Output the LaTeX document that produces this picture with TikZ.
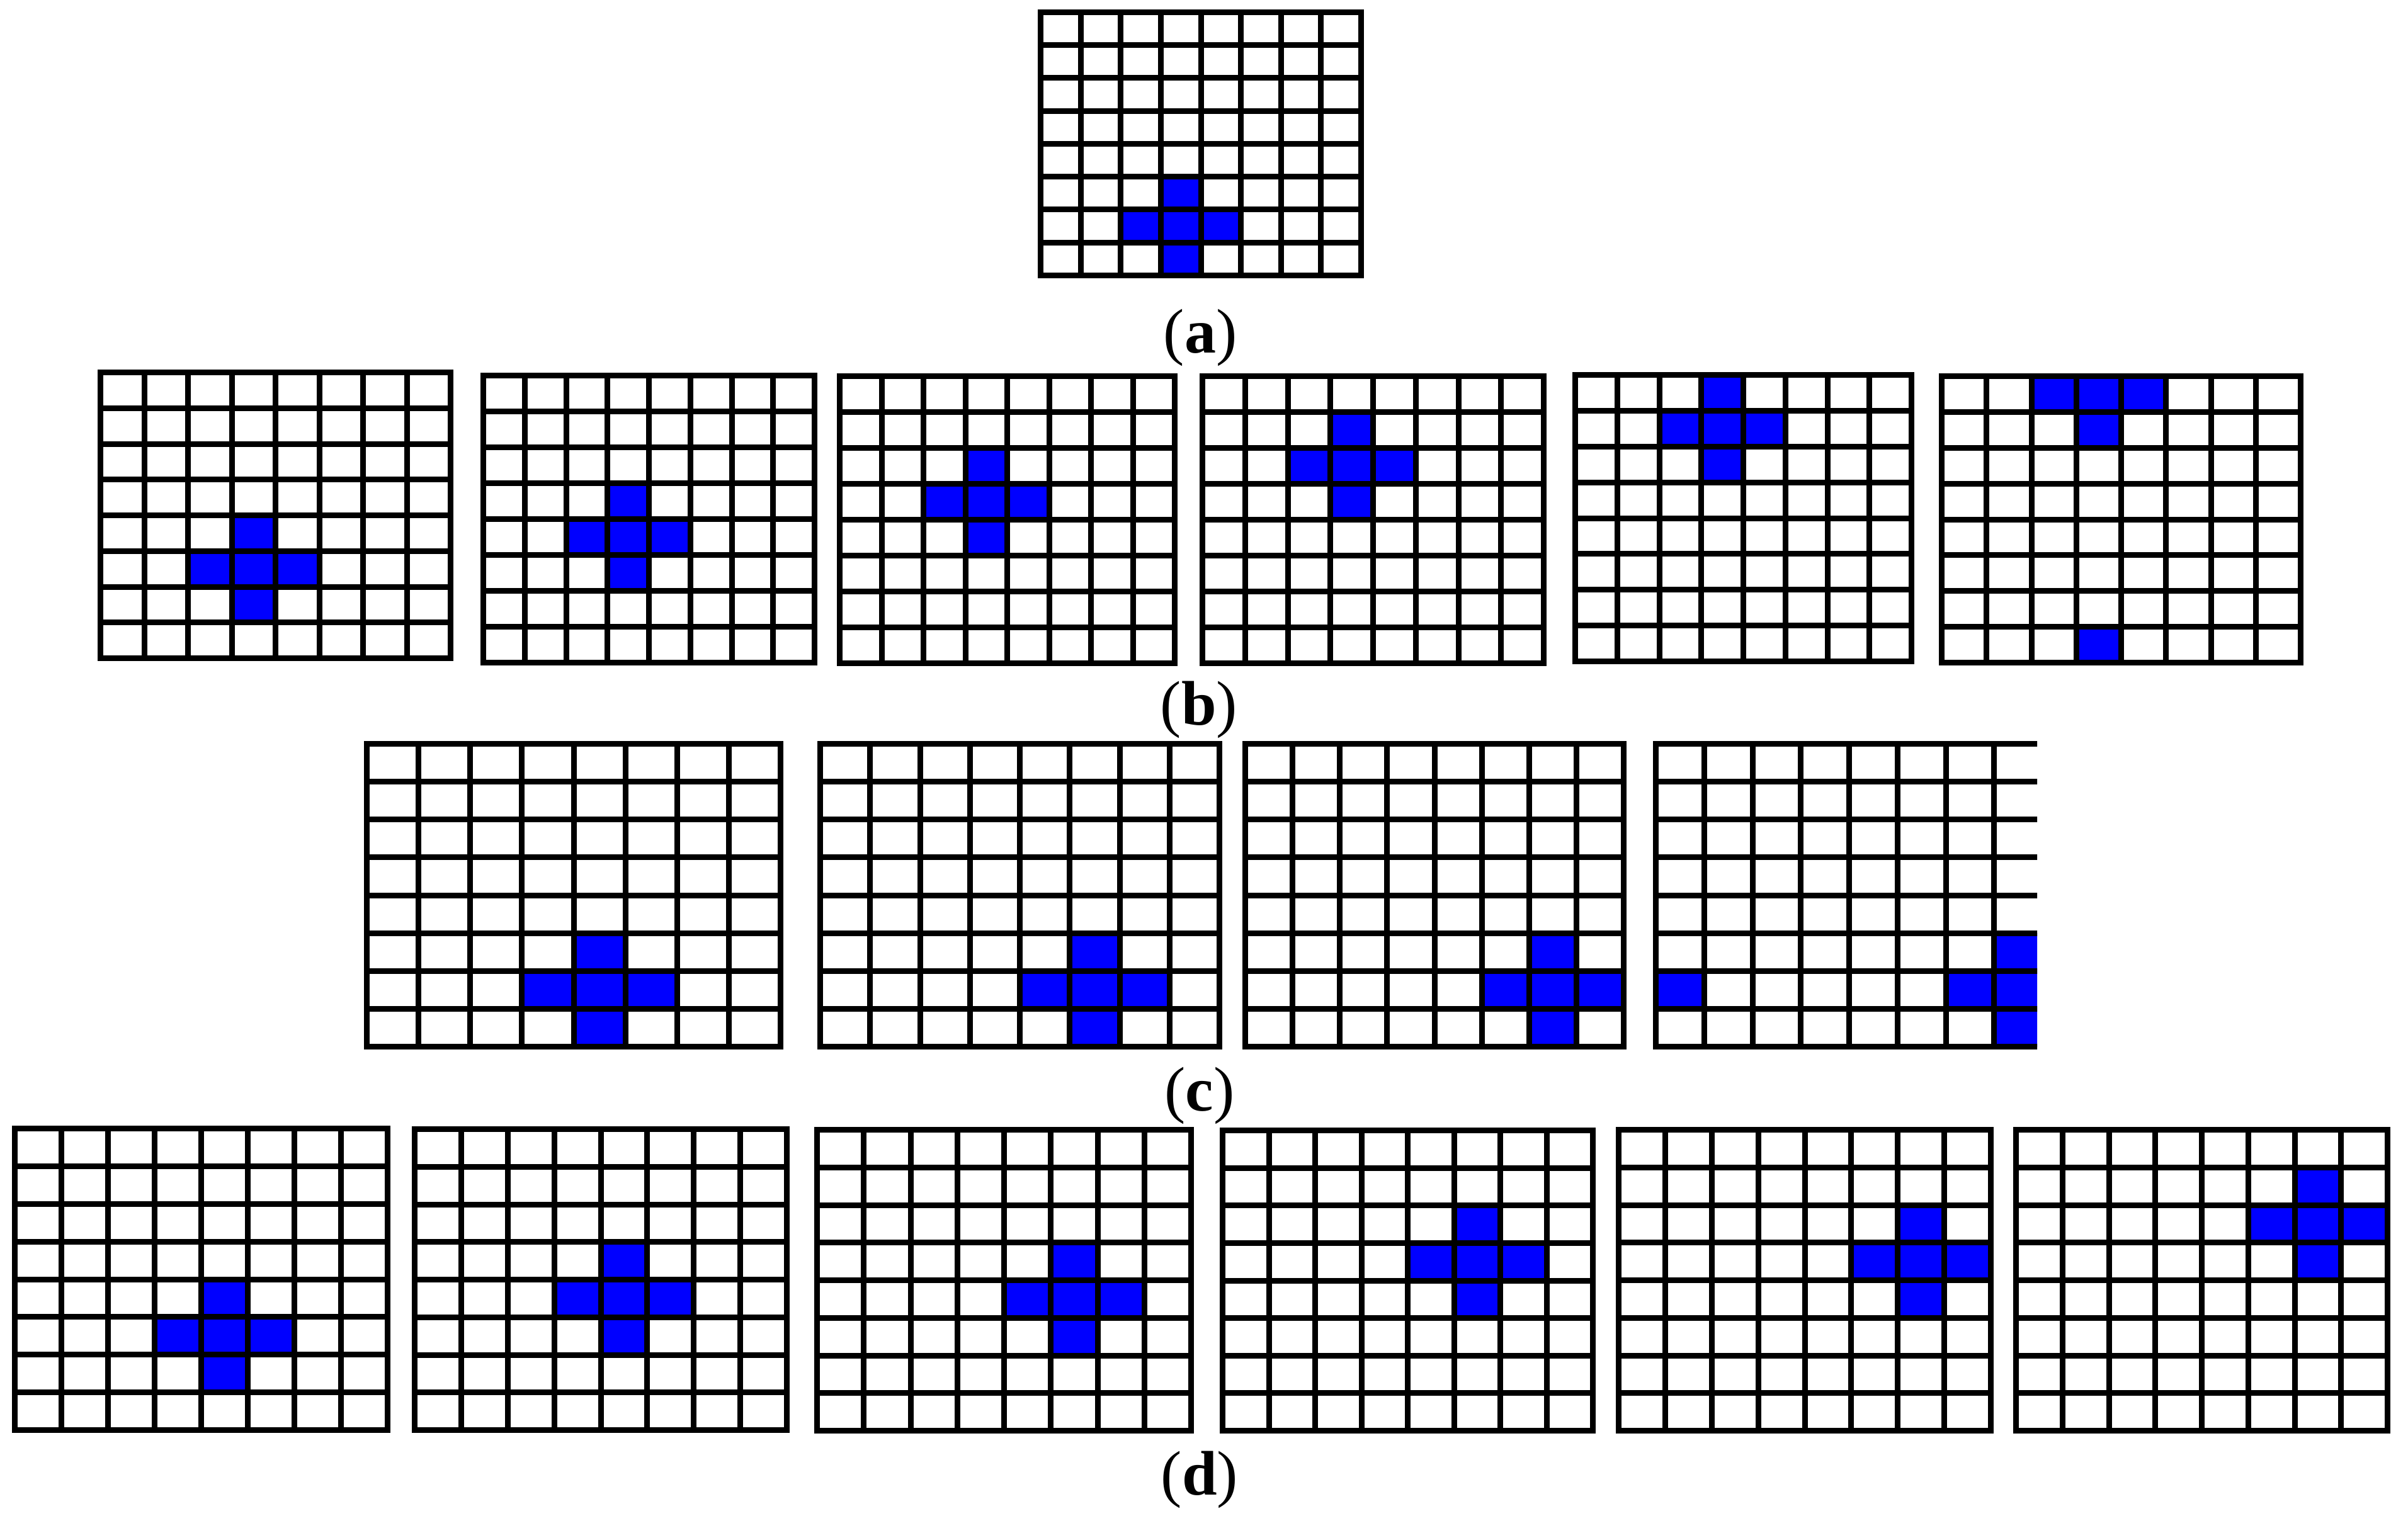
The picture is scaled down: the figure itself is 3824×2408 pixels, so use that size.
\documentclass[tikz,border=0pt]{standalone}
\usepackage{fontspec}
\setmainfont{Liberation Serif}
\definecolor{crossblue}{RGB}{0,0,255}
\tikzset{
  gridline/.style={draw=black,line width=2.25pt,line cap=butt},
  cellfill/.style={fill=crossblue},
  sublabel/.style={inner sep=0pt,font=\fontsize{25pt}{30pt}\selectfont}
}
% #1 x0, #2 y0, #3 x1, #4 y1 (outer edges, px), #5 centre row, #6 centre column
\newcommand\crossgrid[6]{%
  \pgfmathsetmacro\gl{#1+4.5}%
  \pgfmathsetmacro\gr{#3-4.5}%
  \pgfmathsetmacro\gt{#2+4.5}%
  \pgfmathsetmacro\gb{#4-4.5}%
  \pgfmathsetmacro\cw{(\gr-\gl)/8}%
  \pgfmathsetmacro\ch{(\gb-\gt)/8}%
  \foreach \dr/\dc in {-1/0,0/-1,0/0,0/1,1/0}{%
    \pgfmathtruncatemacro\rr{mod(#5+\dr+8,8)}%
    \pgfmathtruncatemacro\cc{mod(#6+\dc+8,8)}%
    \fill[cellfill] (\gl+\cc*\cw,\gt+\rr*\ch) rectangle ++(\cw,\ch);
  }%
  \foreach \i in {0,...,8}{%
    \draw[gridline] (\gl+\i*\cw,\gt-4.5) -- (\gl+\i*\cw,\gb+4.5);
    \draw[gridline] (\gl-4.5,\gt+\i*\ch) -- (\gr+4.5,\gt+\i*\ch);
  }%
}
\begin{document}
\begin{tikzpicture}[x=0.25pt,y=-0.25pt]
\useasboundingbox (0,0) rectangle (3824,2408);
\fill[white] (0,0) rectangle (3824,2408);
% (a)
\crossgrid{1648}{15}{2166}{442}{6}{3}
\node[sublabel] (la) at (1906,536) {(\textbf{a})};
% (b)
\crossgrid{155}{587}{720}{1050}{5}{3}
\crossgrid{763}{592}{1298}{1057}{4}{3}
\crossgrid{1329}{593}{1870}{1058}{3}{3}
\crossgrid{1905}{593}{2456}{1058}{2}{3}
\crossgrid{2497}{591}{3040}{1055}{1}{3}
\crossgrid{3079}{593}{3658}{1057}{0}{3}
\node[sublabel] (lb) at (1904,1127) {(\textbf{b})};
% (c)
\crossgrid{578}{1177}{1244}{1667}{6}{4}
\crossgrid{1298}{1177}{1941}{1667}{6}{5}
\crossgrid{1973}{1177}{2583}{1667}{6}{6}
\begin{scope}
  \clip (2600,1150) rectangle (3235,1700);
  \crossgrid{2625}{1177}{3248}{1667}{6}{7}
\end{scope}
\node[sublabel] (lc) at (1905,1740) {(\textbf{c})};
% (d)
\crossgrid{19}{1788}{620}{2276}{5}{4}
\crossgrid{654}{1789}{1254}{2276}{4}{4}
\crossgrid{1293}{1790}{1896}{2277}{4}{5}
\crossgrid{1937}{1791}{2534}{2277}{3}{5}
\crossgrid{2566}{1790}{3166}{2277}{3}{6}
\crossgrid{3197}{1790}{3796}{2277}{2}{6}
\node[sublabel] (ld) at (1905,2350) {(\textbf{d})};
\end{tikzpicture}
\end{document}
